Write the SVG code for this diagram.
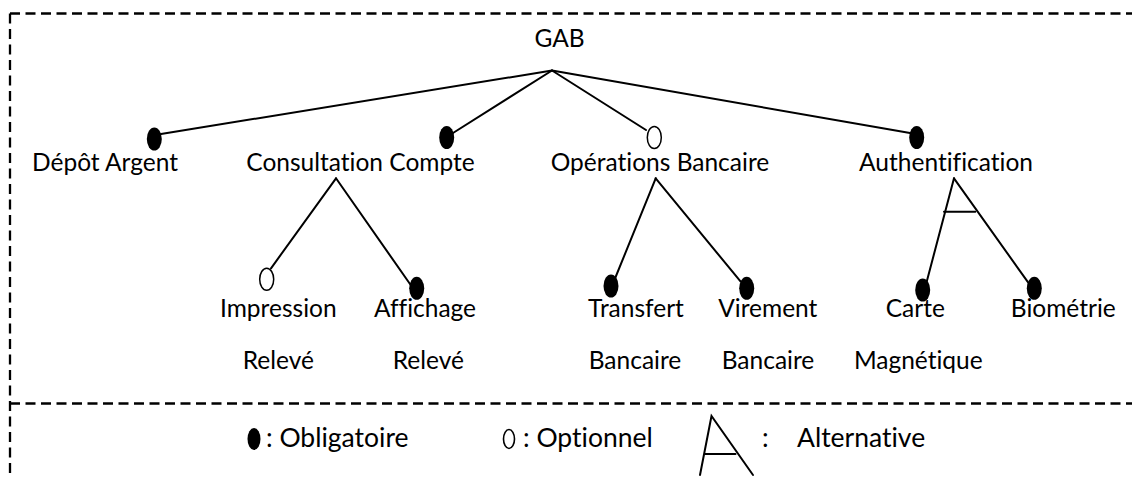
<svg xmlns="http://www.w3.org/2000/svg" width="1132" height="478" viewBox="0 0 1132 478">
<style>
text{font-family:Lato,"Liberation Sans",sans-serif;font-size:24.5px;fill:#000;text-anchor:middle;font-variant-ligatures:none;font-feature-settings:"liga" 0,"clig" 0}
.lg{text-anchor:start;font-size:26.5px}
.c{stroke:#000;stroke-width:2;fill:none;stroke-linecap:round}
.b{stroke:#000;stroke-width:2.3;fill:none;stroke-dasharray:10 5.5}
.m{fill:#000;stroke:none}
.o{fill:#fff;stroke:#000;stroke-width:1.5}
</style>
<rect width="1132" height="478" fill="#fff"/>
<g id="frame">
<line class="b" x1="10" y1="13.5" x2="1132" y2="13.5"/>
<line class="b" x1="10" y1="13.5" x2="10" y2="478"/>
<line class="b" x1="10" y1="403.5" x2="1132" y2="403.5"/>
</g>
<g id="connectors">
<line class="c" x1="552" y1="70.5" x2="161" y2="134"/>
<line class="c" x1="552" y1="70.5" x2="453" y2="133"/>
<line class="c" x1="552" y1="70.5" x2="646" y2="130"/>
<line class="c" x1="552" y1="70.5" x2="910" y2="133"/>
<line class="c" x1="336" y1="178.3" x2="271" y2="268.3"/>
<line class="c" x1="336" y1="178.3" x2="410.7" y2="285"/>
<line class="c" x1="655.7" y1="178.3" x2="614" y2="281"/>
<line class="c" x1="655.7" y1="178.3" x2="740.7" y2="281.7"/>
<line class="c" x1="954" y1="178.3" x2="926.7" y2="281.7"/>
<line class="c" x1="954" y1="178.3" x2="1028.3" y2="282.7"/>
<line class="c" x1="944" y1="211.7" x2="975.3" y2="211.7"/>
</g>
<g id="n-gab"><text x="559.5" y="47">GAB</text></g>
<g id="n-depot"><ellipse class="m" cx="154.3" cy="139" rx="7.5" ry="11.5"/><text x="105" y="171">Dépôt Argent</text></g>
<g id="n-consultation"><ellipse class="m" cx="446.7" cy="137.5" rx="7.5" ry="11.5"/><text x="360.5" y="171">Consultation Compte</text></g>
<g id="n-operations"><ellipse class="o" cx="654.3" cy="137.5" rx="7" ry="11"/><text x="660" y="171">Opérations Bancaire</text></g>
<g id="n-auth"><ellipse class="m" cx="916.7" cy="137.5" rx="7.5" ry="11.5"/><text x="946" y="171">Authentification</text></g>
<g id="n-impression"><ellipse class="o" cx="266.7" cy="279.3" rx="7" ry="11"/><text x="278.3" y="316.7">Impression</text><text x="278.3" y="369.3">Relevé</text></g>
<g id="n-affichage"><ellipse class="m" cx="416.7" cy="288.3" rx="7.5" ry="11.5"/><text x="425" y="316.7">Affichage</text><text x="428.3" y="369.3">Relevé</text></g>
<g id="n-transfert"><ellipse class="m" cx="611" cy="286" rx="7.5" ry="11.5"/><text x="636" y="316.7">Transfert</text><text x="635" y="369.3">Bancaire</text></g>
<g id="n-virement"><ellipse class="m" cx="746.7" cy="288.3" rx="7.5" ry="11.5"/><text x="767.8" y="316.7">Virement</text><text x="768" y="369.3">Bancaire</text></g>
<g id="n-carte"><ellipse class="m" cx="922.7" cy="290" rx="7.5" ry="11.5"/><text x="915.3" y="316.7">Carte</text><text x="918.3" y="369.3">Magnétique</text></g>
<g id="n-bio"><ellipse class="m" cx="1034.3" cy="288.3" rx="7.5" ry="11.5"/><text x="1063.3" y="316.7">Biométrie</text></g>
<g id="legend">
<ellipse class="m" cx="254" cy="439" rx="6.5" ry="11"/>
<text class="lg" x="266" y="447">: Obligatoire</text>
<ellipse fill="none" stroke="#000" stroke-width="1.6" cx="509" cy="439" rx="5.5" ry="9.5"/>
<text class="lg" x="523" y="447">: Optionnel</text>
<polyline class="c" points="700,475 711.5,416 753,475"/>
<line class="c" x1="705" y1="454" x2="735.5" y2="454"/>
<text class="lg" x="762" y="447">:</text>
<text class="lg" x="797" y="447">Alternative</text>
</g>
</svg>
